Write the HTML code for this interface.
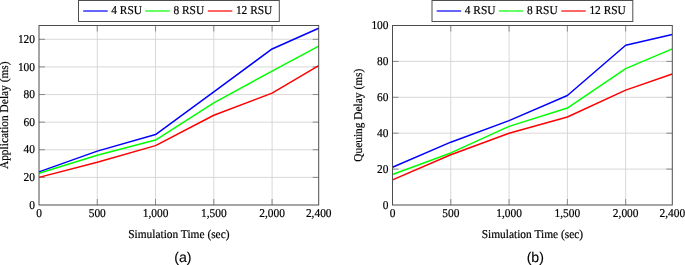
<!DOCTYPE html>
<html><head><meta charset="utf-8"><style>
html,body{margin:0;padding:0;background:#fff;}
body{width:685px;height:265px;overflow:hidden;}
svg{display:block;will-change:transform;}
text{text-rendering:geometricPrecision;font-family:"Liberation Serif",serif;font-size:12.0px;fill:#000;stroke:#000;stroke-width:0.2px;}
text.cap{font-family:"Liberation Sans",sans-serif;font-size:14.1px;stroke-width:0.12px;}
</style></head><body>
<svg width="685" height="265" viewBox="0 0 685 265">
<rect width="685" height="265" fill="#fff"/>
<path d="M97.27 25.5V205M155.54 25.5V205M213.81 25.5V205M272.08 25.5V205M39 177.38H318.7M39 149.77H318.7M39 122.15H318.7M39 94.54H318.7M39 66.92H318.7M39 39.31H318.7" stroke="#d4d4d4" stroke-width="0.9" fill="none"/>
<path d="M97.27 205v-6.0M97.27 25.5v6.0M155.54 205v-6.0M155.54 25.5v6.0M213.81 205v-6.0M213.81 25.5v6.0M272.08 205v-6.0M272.08 25.5v6.0M39 177.38h6.0M318.7 177.38h-6.0M39 149.77h6.0M318.7 149.77h-6.0M39 122.15h6.0M318.7 122.15h-6.0M39 94.54h6.0M318.7 94.54h-6.0M39 66.92h6.0M318.7 66.92h-6.0M39 39.31h6.0M318.7 39.31h-6.0" stroke="#808080" stroke-width="0.9" fill="none"/>
<polyline points="39,171.86 97.27,151.15 155.54,134.58 213.81,91.78 272.08,48.97 318.7,28.26" stroke="#0000ff" stroke-width="1.5" fill="none" stroke-linejoin="round"/>
<polyline points="39,173.24 97.27,155.29 155.54,140.1 213.81,102.82 272.08,71.07 318.7,46.21" stroke="#00ff00" stroke-width="1.5" fill="none" stroke-linejoin="round"/>
<polyline points="39,177.38 97.27,162.2 155.54,145.63 213.81,115.25 272.08,93.16 318.7,65.54" stroke="#ff0000" stroke-width="1.5" fill="none" stroke-linejoin="round"/>
<rect x="39" y="25.5" width="279.7" height="179.5" stroke="#4d4d4d" stroke-width="1.0" fill="none"/>
<text transform="translate(35 208.6) scale(0.95 1)" text-anchor="end">0</text>
<text transform="translate(35 180.98) scale(0.95 1)" text-anchor="end">20</text>
<text transform="translate(35 153.37) scale(0.95 1)" text-anchor="end">40</text>
<text transform="translate(35 125.75) scale(0.95 1)" text-anchor="end">60</text>
<text transform="translate(35 98.14) scale(0.95 1)" text-anchor="end">80</text>
<text transform="translate(35 70.52) scale(0.95 1)" text-anchor="end">100</text>
<text transform="translate(35 42.91) scale(0.95 1)" text-anchor="end">120</text>
<text transform="translate(39 216.7) scale(0.95 1)" text-anchor="middle">0</text>
<text transform="translate(97.27 216.7) scale(0.95 1)" text-anchor="middle">500</text>
<text transform="translate(155.54 216.7) scale(0.95 1)" text-anchor="middle">1,000</text>
<text transform="translate(213.81 216.7) scale(0.95 1)" text-anchor="middle">1,500</text>
<text transform="translate(272.08 216.7) scale(0.95 1)" text-anchor="middle">2,000</text>
<text transform="translate(318.7 216.7) scale(0.95 1)" text-anchor="middle">2,400</text>
<text transform="translate(178.85 238.2) scale(0.95 1)" text-anchor="middle">Simulation Time (sec)</text>
<text transform="translate(8 115.25) rotate(-90) scale(0.95 1)" text-anchor="middle">Application Delay (ms)</text>
<text class="cap" x="182.9" y="261.8" text-anchor="middle">(a)</text>
<rect x="78.5" y="0.5" width="200.8" height="21" stroke="#4d4d4d" stroke-width="1.0" fill="#fff"/>
<path d="M83.2 11.0h24.5" stroke="#0000ff" stroke-width="1.2"/>
<text transform="translate(111.3 14.1) scale(0.95 1)">4 RSU</text>
<path d="M145.3 11.0h24.5" stroke="#00ff00" stroke-width="1.2"/>
<text transform="translate(173.4 14.1) scale(0.95 1)">8 RSU</text>
<path d="M207.8 11.0h24.5" stroke="#ff0000" stroke-width="1.2"/>
<text transform="translate(235.9 14.1) scale(0.95 1)">12 RSU</text>
<path d="M450.79 25.5V205M509.08 25.5V205M567.38 25.5V205M625.67 25.5V205M392.5 169.1H672.3M392.5 133.2H672.3M392.5 97.3H672.3M392.5 61.4H672.3" stroke="#d4d4d4" stroke-width="0.9" fill="none"/>
<path d="M450.79 205v-6.0M450.79 25.5v6.0M509.08 205v-6.0M509.08 25.5v6.0M567.38 205v-6.0M567.38 25.5v6.0M625.67 205v-6.0M625.67 25.5v6.0M392.5 169.1h6.0M672.3 169.1h-6.0M392.5 133.2h6.0M672.3 133.2h-6.0M392.5 97.3h6.0M672.3 97.3h-6.0M392.5 61.4h6.0M672.3 61.4h-6.0" stroke="#808080" stroke-width="0.9" fill="none"/>
<polyline points="392.5,167.31 450.79,142.18 509.08,120.64 567.38,95.5 625.67,45.25 672.3,34.47" stroke="#0000ff" stroke-width="1.5" fill="none" stroke-linejoin="round"/>
<polyline points="392.5,174.49 450.79,152.94 509.08,126.38 567.38,108.07 625.67,68.58 672.3,48.84" stroke="#00ff00" stroke-width="1.5" fill="none" stroke-linejoin="round"/>
<polyline points="392.5,179.87 450.79,154.74 509.08,133.2 567.38,117.05 625.67,90.12 672.3,73.97" stroke="#ff0000" stroke-width="1.5" fill="none" stroke-linejoin="round"/>
<rect x="392.5" y="25.5" width="279.8" height="179.5" stroke="#4d4d4d" stroke-width="1.0" fill="none"/>
<text transform="translate(388.5 208.6) scale(0.95 1)" text-anchor="end">0</text>
<text transform="translate(388.5 172.7) scale(0.95 1)" text-anchor="end">20</text>
<text transform="translate(388.5 136.8) scale(0.95 1)" text-anchor="end">40</text>
<text transform="translate(388.5 100.9) scale(0.95 1)" text-anchor="end">60</text>
<text transform="translate(388.5 65) scale(0.95 1)" text-anchor="end">80</text>
<text transform="translate(388.5 29.1) scale(0.95 1)" text-anchor="end">100</text>
<text transform="translate(392.5 216.7) scale(0.95 1)" text-anchor="middle">0</text>
<text transform="translate(450.79 216.7) scale(0.95 1)" text-anchor="middle">500</text>
<text transform="translate(509.08 216.7) scale(0.95 1)" text-anchor="middle">1,000</text>
<text transform="translate(567.38 216.7) scale(0.95 1)" text-anchor="middle">1,500</text>
<text transform="translate(625.67 216.7) scale(0.95 1)" text-anchor="middle">2,000</text>
<text transform="translate(672.3 216.7) scale(0.95 1)" text-anchor="middle">2,400</text>
<text transform="translate(532.4 238.2) scale(0.95 1)" text-anchor="middle">Simulation Time (sec)</text>
<text transform="translate(362 115.25) rotate(-90) scale(0.95 1)" text-anchor="middle">Queuing Delay (ms)</text>
<text class="cap" x="535.3" y="261.8" text-anchor="middle">(b)</text>
<rect x="432" y="0.5" width="200.8" height="21" stroke="#4d4d4d" stroke-width="1.0" fill="#fff"/>
<path d="M436.7 11.0h24.5" stroke="#0000ff" stroke-width="1.2"/>
<text transform="translate(464.8 14.1) scale(0.95 1)">4 RSU</text>
<path d="M498.8 11.0h24.5" stroke="#00ff00" stroke-width="1.2"/>
<text transform="translate(526.9 14.1) scale(0.95 1)">8 RSU</text>
<path d="M561.3 11.0h24.5" stroke="#ff0000" stroke-width="1.2"/>
<text transform="translate(589.4 14.1) scale(0.95 1)">12 RSU</text>
</svg>
</body></html>
